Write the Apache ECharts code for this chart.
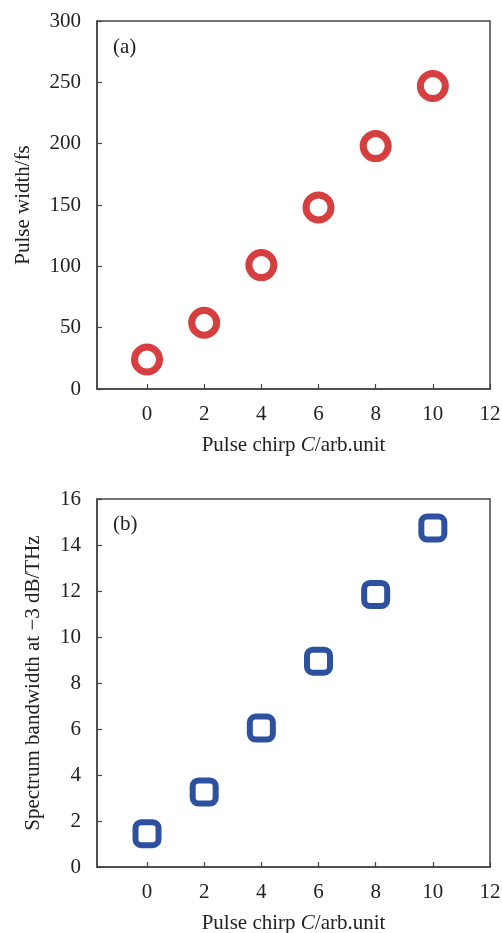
<!DOCTYPE html>
<html>
<head>
<meta charset="utf-8">
<script src="https://cdn.jsdelivr.net/npm/echarts@6/dist/echarts.min.js"></script>
<style>html,body{margin:0;padding:0;background:#fff;}#c{width:502px;height:933px;}</style>
</head>
<body>
<div id="c"></div>
<script>
var chirp = [0, 2, 4, 6, 8, 10];
var pulseWidth = [24, 54, 101, 148, 198, 247];
var bandwidth = [1.45, 3.26, 6.04, 8.95, 11.85, 14.74];
var xTicks = [0, 2, 4, 6, 8, 10, 12];
var xTitle = 'Pulse chirp {i|C}/arb.unit';
var yTitleA = 'Pulse width/fs';
var yTitleB = 'Spectrum bandwidth at \u22123 dB/THz';

var FONT = '"Liberation Serif", "DejaVu Serif", serif';
var FS = 21;
var AX = '#444';
var TXT = '#222';

function xAxis(idx) {
  return {
    type: 'value', gridIndex: idx, min: -1.75, max: 12,
    name: xTitle, nameLocation: 'middle', nameGap: 46,
    nameTextStyle: { fontFamily: FONT, fontSize: FS, color: TXT,
      rich: { i: { fontFamily: FONT, fontSize: FS, fontStyle: 'italic', color: TXT } } },
    axisLine: { show: true, onZero: false, lineStyle: { color: AX, width: 1.5 } },
    axisTick: { show: true, inside: true, length: 5, customValues: xTicks, lineStyle: { color: AX, width: 1.2 } },
    axisLabel: { fontFamily: FONT, fontSize: FS, color: TXT, margin: 15, customValues: xTicks },
    splitLine: { show: false }
  };
}
function yAxis(idx, max, interval, name, gap) {
  return {
    type: 'value', gridIndex: idx, min: 0, max: max, interval: interval,
    name: name, nameLocation: 'middle', nameGap: gap, nameRotate: 90,
    nameTextStyle: { fontFamily: FONT, fontSize: FS, color: TXT },
    axisLine: { show: true, onZero: false, lineStyle: { color: AX, width: 1.5 } },
    axisTick: { show: true, inside: true, length: 5, lineStyle: { color: AX, width: 1.2 } },
    axisLabel: { fontFamily: FONT, fontSize: FS, color: TXT, margin: 16 },
    splitLine: { show: false }
  };
}

var chart = echarts.init(document.getElementById('c'), null, { renderer: 'canvas' });
chart.setOption({
  backgroundColor: '#fff',
  animation: false,
  title: [
    { text: '(a)', left: 108, top: 32, textStyle: { fontFamily: FONT, fontSize: FS, fontWeight: 'normal', color: TXT } },
    { text: '(b)', left: 108, top: 509, textStyle: { fontFamily: FONT, fontSize: FS, fontWeight: 'normal', color: TXT } }
  ],
  grid: [
    { left: 97, right: 12, top: 21, height: 368, show: true, borderColor: AX, borderWidth: 1.5, backgroundColor: 'transparent', outerBoundsMode: 'none', containLabel: false },
    { left: 97, right: 12, top: 499, height: 368, show: true, borderColor: AX, borderWidth: 1.5, backgroundColor: 'transparent', outerBoundsMode: 'none', containLabel: false }
  ],
  xAxis: [xAxis(0), xAxis(1)],
  yAxis: [yAxis(0, 300, 50, yTitleA, 63), yAxis(1, 16, 2, yTitleB, 53)],
  series: [
    {
      type: 'scatter', xAxisIndex: 0, yAxisIndex: 0,
      data: chirp.map(function (c, i) { return [c, pulseWidth[i]]; }),
      symbol: 'circle', symbolSize: 25,
      itemStyle: { color: '#ffffff', borderColor: '#d63f3f', borderWidth: 7, opacity: 1 }
    },
    {
      type: 'scatter', xAxisIndex: 1, yAxisIndex: 1,
      data: chirp.map(function (c, i) { return [c, bandwidth[i]]; }),
      symbol: 'roundRect', symbolSize: 23,
      itemStyle: { color: '#ffffff', borderColor: '#2e519f', borderWidth: 6, opacity: 1 }
    }
  ]
});
</script>
</body>
</html>
